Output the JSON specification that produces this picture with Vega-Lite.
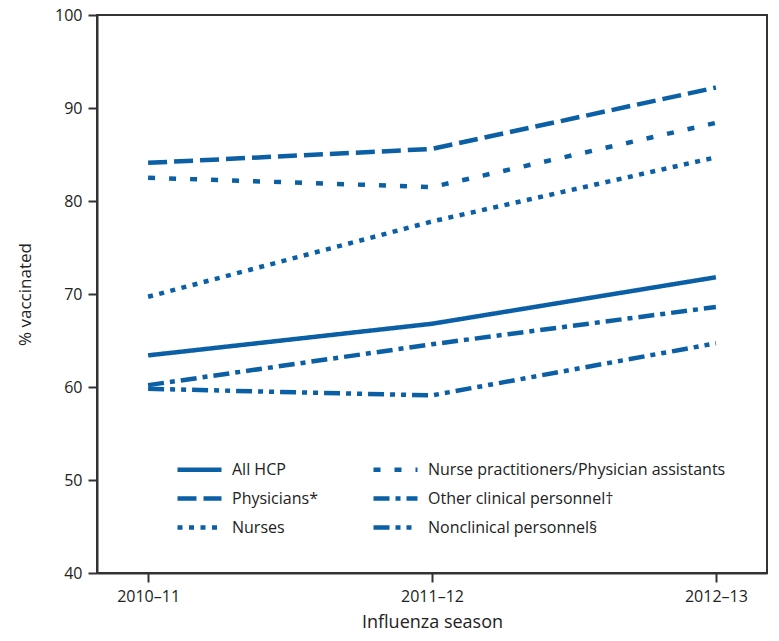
{
  "$schema": "https://vega.github.io/schema/vega-lite/v6.json",
  "width": 670,
  "height": 558,
  "autosize": {"type": "none"},
  "padding": {"left": 97, "top": 15, "right": 12, "bottom": 68},
  "background": "white",
  "config": {
    "font": "Open Sans",
    "view": {"stroke": "#333333", "strokeWidth": 2}
  },
  "data": {
    "values": [
      {"season": "2010–11", "group": "All HCP", "pct": 63.4},
      {"season": "2011–12", "group": "All HCP", "pct": 66.8},
      {"season": "2012–13", "group": "All HCP", "pct": 71.8},
      {"season": "2010–11", "group": "Physicians*", "pct": 84.1},
      {"season": "2011–12", "group": "Physicians*", "pct": 85.6},
      {"season": "2012–13", "group": "Physicians*", "pct": 92.2},
      {"season": "2010–11", "group": "Nurses", "pct": 69.7},
      {"season": "2011–12", "group": "Nurses", "pct": 77.8},
      {"season": "2012–13", "group": "Nurses", "pct": 84.7},
      {"season": "2010–11", "group": "Nurse practitioners/Physician assistants", "pct": 82.5},
      {"season": "2011–12", "group": "Nurse practitioners/Physician assistants", "pct": 81.5},
      {"season": "2012–13", "group": "Nurse practitioners/Physician assistants", "pct": 88.4},
      {"season": "2010–11", "group": "Other clinical personnel†", "pct": 60.2},
      {"season": "2011–12", "group": "Other clinical personnel†", "pct": 64.6},
      {"season": "2012–13", "group": "Other clinical personnel†", "pct": 68.6},
      {"season": "2010–11", "group": "Nonclinical personnel§", "pct": 59.8},
      {"season": "2011–12", "group": "Nonclinical personnel§", "pct": 59.1},
      {"season": "2012–13", "group": "Nonclinical personnel§", "pct": 64.7}
    ]
  },
  "mark": {"type": "line", "color": "#0b5fa5", "strokeWidth": 4.5, "strokeCap": "butt"},
  "encoding": {
    "x": {
      "field": "season",
      "type": "ordinal",
      "scale": {"type": "point", "padding": 0.18},
      "axis": {
        "title": "Influenza season",
        "titleFontSize": 18,
        "titleFontWeight": "normal",
        "titleColor": "#222222",
        "titlePadding": 9,
        "labelAngle": 0,
        "labelFontSize": 16,
        "labelColor": "#222222",
        "labelPadding": 6,
        "tickSize": 9,
        "tickWidth": 2,
        "tickColor": "#333333",
        "domainColor": "#333333",
        "domainWidth": 2,
        "grid": false
      }
    },
    "y": {
      "field": "pct",
      "type": "quantitative",
      "scale": {"domain": [40, 100], "nice": false, "zero": false},
      "axis": {
        "title": "% vaccinated",
        "titleFontSize": 17,
        "titleFontWeight": "normal",
        "titleColor": "#222222",
        "titlePadding": 20,
        "values": [40, 50, 60, 70, 80, 90, 100],
        "labelFontSize": 16,
        "labelColor": "#222222",
        "labelPadding": 6,
        "tickSize": 9,
        "tickWidth": 2,
        "tickColor": "#333333",
        "domainColor": "#333333",
        "domainWidth": 2,
        "grid": false
      }
    },
    "strokeDash": {
      "field": "group",
      "type": "nominal",
      "scale": {
        "domain": ["All HCP", "Physicians*", "Nurses", "Nurse practitioners/Physician assistants", "Other clinical personnel†", "Nonclinical personnel§"],
        "range": [[1, 0], [19, 7], [5, 6.5], [7, 14], [16, 6, 5, 6], [16, 6, 5, 6, 5, 6]]
      },
      "legend": {
        "title": null,
        "orient": "none",
        "legendX": 89,
        "legendY": 441,
        "columns": 2,
        "columnPadding": 46,
        "rowPadding": 6,
        "symbolType": "M-2,0H2",
        "symbolSize": 484,
        "symbolFillColor": "transparent",
        "symbolStrokeWidth": 4.5,
        "symbolStrokeColor": "#0b5fa5",
        "labelFontSize": 16,
        "labelColor": "#222222",
        "labelOffset": 19,
        "labelLimit": 400
      }
    }
  }
}
